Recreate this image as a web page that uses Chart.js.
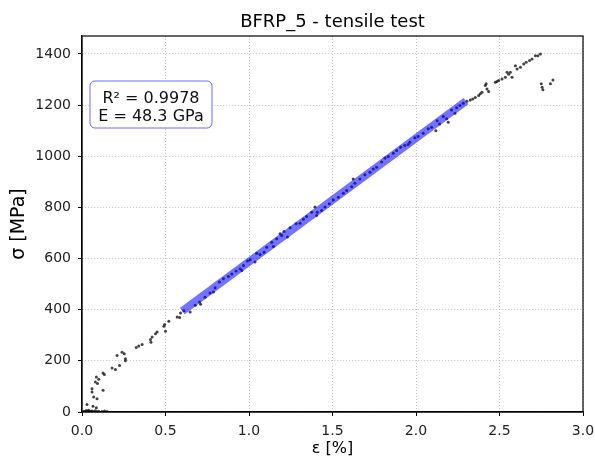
<!DOCTYPE html>
<html>
<head>
<meta charset="utf-8">
<script src="https://cdn.jsdelivr.net/npm/chart.js@4.4.1/dist/chart.umd.min.js"></script>
<style>
  html, body { margin: 0; padding: 0; background: #fff; }
  #wrap { width: 595px; height: 462px; }
</style>
</head>
<body>
<div id="wrap"><canvas id="tensile-chart" width="595" height="462"></canvas></div>
<script>
'use strict';

// measured points, strain in %, stress in MPa
const TOE_STRAIN = [0.01, 0.02, 0.025, 0.03, 0.035, 0.04, 0.05, 0.055, 0.06, 0.07, 0.08, 0.09, 0.1, 0.12, 0.135, 0.15,
    0.03, 0.066, 0.086, 0.09, 0.07, 0.06, 0.06, 0.126, 0.093, 0.08, 0.086, 0.1, 0.126, 0.134,
    0.18, 0.2, 0.21, 0.225, 0.24, 0.253, 0.26, 0.26, 0.325, 0.34, 0.36, 0.41, 0.413, 0.42, 0.44, 0.45,
    0.49, 0.495, 0.5, 0.52, 0.57, 0.585, 0.59, 0.61];
const TOE_STRESS = [3, 1, 6, 2, 4, 7, 3, 1, 4, 2, 5, 1, 3, 2, 4, 2,
    29, 22, 17, 52, 59, 78, 91, 85, 111, 117, 137, 128, 152, 147,
    172, 166, 221, 182, 234, 228, 208, 200, 252, 258, 264, 283, 273, 293, 306, 313,
    335, 342, 316, 355, 371, 369, 387, 396];

const LINEAR_STRAIN = [0.648, 0.678, 0.704, 0.71, 0.737, 0.767, 0.787, 0.797, 0.823, 0.847, 0.877, 0.897, 0.923, 0.947,
    0.957, 0.967, 0.991, 1.007, 1.036, 1.046, 1.066, 1.09, 1.106, 1.136, 1.146, 1.166, 1.186, 1.196, 1.21, 1.23,
    1.246, 1.282, 1.306, 1.326, 1.345, 1.375, 1.395, 1.405, 1.409, 1.435, 1.455, 1.481, 1.505, 1.535, 1.565,
    1.585, 1.615, 1.624, 1.634, 1.664, 1.694, 1.724, 1.744, 1.764, 1.794, 1.814, 1.834, 1.864, 1.884, 1.908,
    1.933, 1.953, 1.963, 1.993, 2.013, 2.043, 2.073, 2.093, 2.119, 2.127, 2.141, 2.163, 2.183, 2.193, 2.213,
    2.233, 2.243, 2.263, 2.283];
const LINEAR_STRESS = [391, 417, 430, 421, 449, 465, 469, 486, 508, 521, 530, 540, 551, 560,
    553, 573, 590, 595, 586, 621, 616, 625, 644, 664, 647, 677, 697, 690, 706, 684,
    720, 736, 738, 754, 764, 781, 801, 768, 781, 788, 801, 814, 829, 840, 855,
    866, 881, 911, 894, 911, 928, 937, 950, 957, 977, 993, 999, 1012, 1022, 1035,
    1042, 1046, 1055, 1072, 1077, 1090, 1107, 1113, 1100, 1139, 1126, 1155, 1146, 1133, 1181,
    1168, 1189, 1198, 1207];

const TAIL_STRAIN = [2.305, 2.325, 2.34, 2.355, 2.375, 2.385, 2.395, 2.415, 2.42, 2.425, 2.435, 2.475, 2.485,
    2.495, 2.515, 2.535, 2.545, 2.555, 2.565, 2.575, 2.595, 2.605, 2.625, 2.645, 2.66, 2.68, 2.695, 2.715,
    2.73, 2.745, 2.75, 2.755, 2.76, 2.805, 2.82];
const TAIL_STRESS = [1215, 1220, 1224, 1230, 1237, 1244, 1250, 1276, 1283, 1263, 1253, 1289, 1292,
    1296, 1302, 1309, 1328, 1320, 1328, 1309, 1354, 1341, 1348, 1361, 1367, 1374, 1380, 1393,
    1393, 1400, 1283, 1270, 1260, 1283, 1298];

// linear fit over the elastic range
const FIT_STRAIN = [0.62, 2.28];
const FIT_STRESS = [404, 1206];
const R_SQUARED = '0.9978';
const E_MODULUS_GPA = '48.3';

const X_TICKS = [0, 0.5, 1, 1.5, 2, 2.5, 3];
const Y_TICKS = [0, 200, 400, 600, 800, 1000, 1200, 1400];

const FONT = '"DejaVu Sans", sans-serif';

function toPoints(xs, ys) {
    return xs.map((x, i) => ({ x, y: ys[i] }));
}

const measured = [].concat(
    toPoints(TOE_STRAIN, TOE_STRESS),
    toPoints(LINEAR_STRAIN, LINEAR_STRESS),
    toPoints(TAIL_STRAIN, TAIL_STRESS)
);

const decorPlugin = {
    id: 'decor',
    afterDraw(chart) {
        const { ctx, chartArea: a } = chart;
        ctx.save();

        // frame around the axes
        ctx.strokeStyle = '#000';
        ctx.lineWidth = 1.2;
        ctx.strokeRect(a.left, a.top, a.right - a.left, a.bottom - a.top);

        const cx = (a.left + a.right) / 2;
        ctx.fillStyle = '#000';
        ctx.textAlign = 'center';

        ctx.font = '18px ' + FONT;
        ctx.textBaseline = 'alphabetic';
        ctx.fillText('BFRP_5 - tensile test', cx, 27);

        ctx.font = '16px ' + FONT;
        ctx.fillText('ε [%]', cx, 453);

        ctx.save();
        ctx.translate(24, (a.top + a.bottom) / 2);
        ctx.rotate(-Math.PI / 2);
        ctx.font = '19px ' + FONT;
        ctx.fillText('σ [MPa]', 0, 0);
        ctx.restore();

        // annotation box
        const bx = a.left + 8, by = a.top + 45, bw = 122, bh = 47;
        ctx.beginPath();
        ctx.roundRect(bx, by, bw, bh, 5);
        ctx.fillStyle = '#fff';
        ctx.fill();
        ctx.strokeStyle = 'rgba(60,60,255,0.75)';
        ctx.lineWidth = 1;
        ctx.stroke();

        ctx.fillStyle = '#111';
        ctx.font = '16px ' + FONT;
        ctx.fillText('R² = ' + R_SQUARED, bx + bw / 2, by + 22);
        ctx.fillText('E = ' + E_MODULUS_GPA + ' GPa', bx + bw / 2, by + 40);

        ctx.restore();
    },
};

function axisOptions(min, max, ticks, fmt, fitFn, pad) {
    return {
        type: 'linear',
        min,
        max,
        afterBuildTicks: scale => { scale.ticks = ticks.map(v => ({ value: v })); },
        afterFit: scale => {
            fitFn(scale);
            // let the layout padding alone decide the plot edges
            scale.paddingLeft = 0;
            scale.paddingRight = 0;
            scale.paddingTop = 0;
            scale.paddingBottom = 0;
        },
        ticks: {
            callback: fmt,
            color: '#222',
            font: { family: FONT, size: 14 },
            padding: pad,
            maxRotation: 0,
            autoSkip: false,
        },
        grid: {
            color: '#b0b0b0',
            lineWidth: 0.8,
            tickColor: '#000',
            tickLength: 4,
            tickWidth: 1,
        },
        border: { display: true, color: '#000', width: 1.2, dash: [1, 2] },
    };
}

function initChart() {
    const canvas = document.getElementById('tensile-chart');
    if (!canvas) return;

    new Chart(canvas, {
        type: 'scatter',
        data: {
            datasets: [
                {
                    label: 'fit',
                    type: 'line',
                    data: toPoints(FIT_STRAIN, FIT_STRESS),
                    borderColor: 'rgba(0,0,255,0.55)',
                    borderWidth: 8,
                    borderCapStyle: 'square',
                    pointRadius: 0,
                    fill: false,
                    order: 0,
                },
                {
                    label: 'measured',
                    data: measured,
                    pointRadius: 1.5,
                    pointBorderWidth: 0,
                    backgroundColor: 'rgba(20,20,20,0.8)',
                    borderColor: 'rgba(20,20,20,0.8)',
                    order: 1,
                },
            ],
        },
        options: {
            responsive: false,
            animation: false,
            devicePixelRatio: 1,
            layout: { padding: { left: 0, top: 36, right: 12, bottom: 0 } },
            plugins: {
                legend: { display: false },
                tooltip: { enabled: false },
                title: { display: false },
            },
            scales: {
                x: axisOptions(0, 3, X_TICKS, v => Number(v).toFixed(1), s => { s.height = 50; }, 7),
                y: axisOptions(0, 1470, Y_TICKS, v => String(v), s => { s.width = 82; }, 7),
            },
        },
        plugins: [decorPlugin],
    });
}

initChart();
</script>
</body>
</html>
